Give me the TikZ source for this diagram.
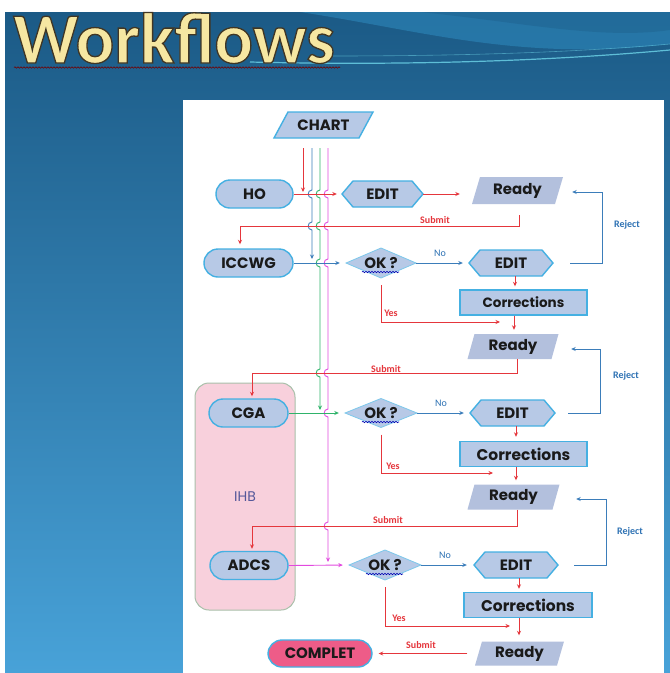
\documentclass[tikz,border=0pt]{standalone}
\usepackage{fontspec}
\setmainfont{Carlito}
\newfontfamily\lblfont{Poppins}
\usetikzlibrary{arrows.meta,decorations.pathmorphing}

\definecolor{slideTop}{HTML}{1B5A86}
\definecolor{slideBot}{HTML}{48A2D8}
\definecolor{nodeFill}{HTML}{B7C9E6}
\definecolor{readyFill}{HTML}{B3C0DD}
\definecolor{nodeEdge}{HTML}{45B0E2}
\definecolor{cRed}{HTML}{E5363C}
\definecolor{cBlue}{HTML}{3B7DBA}
\definecolor{cGreen}{HTML}{2FB36A}
\definecolor{cMag}{HTML}{E24ADF}
\definecolor{lblBlue}{HTML}{2E72B4}
\definecolor{ihbFill}{HTML}{F8D0DC}
\definecolor{ihbEdge}{HTML}{A9C0AA}
\definecolor{ihbText}{HTML}{55589A}
\definecolor{compFill}{HTML}{EE5C88}
\definecolor{titleYel}{HTML}{F6E7A2}
\definecolor{txtc}{HTML}{1A1A1A}
\definecolor{swoosh}{HTML}{2F8CC0}
\definecolor{swooshLine}{HTML}{6FD6EA}

\tikzset{
  lbl/.style={font=\lblfont\bfseries\fontsize{15}{15}\selectfont, text=txtc, inner sep=0pt},
  shapeline/.style={fill=nodeFill, draw=nodeEdge, line width=1.4pt},
  diamline/.style={fill=nodeFill, draw=nodeEdge!70, line width=0.8pt},
  readyshape/.style={fill=readyFill, draw=none},
  term/.style={lbl, shapeline, rounded corners=14pt, minimum height=28pt},
  corr/.style={lbl, shapeline, minimum height=25pt, minimum width=127pt},
  tip/.style={-{Stealth[length=4.5pt,width=4pt]}},
  rline/.style={draw=cRed, line width=0.9pt, tip},
  bline/.style={draw=cBlue, line width=0.9pt, tip},
  gline/.style={draw=cGreen, line width=0.9pt, tip},
  mline/.style={draw=cMag, line width=0.9pt, tip},
  rlab/.style={text=cRed, font=\fontsize{10}{10}\selectfont\bfseries, inner sep=0pt},
  blab/.style={text=lblBlue, font=\fontsize{10}{10}\selectfont, inner sep=0pt},
  squig/.style={draw=#1, line width=0.6pt, decorate, decoration={snake, amplitude=0.7pt, segment length=3pt}},
  titlefont/.style={font=\fontsize{72}{72}\selectfont\bfseries, anchor=base west, inner sep=0pt},
}

% #1 name, #2 x, #3 y, #4 w, #5 h, #6 text
\newcommand\hexnode[6]{%
  \filldraw[shapeline] (#2-#4/2,#3) -- (#2-#4/2+11,#3-#5/2) -- (#2+#4/2-11,#3-#5/2)
    -- (#2+#4/2,#3) -- (#2+#4/2-11,#3+#5/2) -- (#2-#4/2+11,#3+#5/2) -- cycle;
  \node[lbl, minimum width=#4, minimum height=#5] (#1) at (#2,#3) {#6};}
% #1 style, #2 name, #3 x, #4 y, #5 w, #6 h, #7 slant, #8 text
\newcommand\paranode[8]{%
  \path[#1] (#3-#5/2+#7,#4-#6/2) -- (#3+#5/2,#4-#6/2) -- (#3+#5/2-#7,#4+#6/2)
    -- (#3-#5/2,#4+#6/2) -- cycle;
  \node[lbl, minimum width=#5-#7, minimum height=#6] (#2) at (#3,#4) {#8};}
% #1 name, #2 x, #3 y, #4 w, #5 h
\newcommand\dianode[5]{%
  \filldraw[diamline] (#2-#4/2,#3) -- (#2,#3-#5/2) -- (#2+#4/2,#3) -- (#2,#3+#5/2) -- cycle;
  \node[lbl, minimum width=#4, minimum height=#5] (#1) at (#2,#3) {OK ?};
  \draw[squig=blue!70!black] (#2-19,#3+9) -- (#2+18,#3+9);}

\begin{document}
\begin{tikzpicture}[x=1pt,y=-1pt]
\useasboundingbox (0,0) rectangle (670,673);
\fill[white] (0,0) rectangle (670,673);
% slide background
\shade[top color=slideTop, bottom color=slideBot] (5,12) rectangle (670,673);
\fill[swoosh, opacity=0.55] (300,12) .. controls (420,30) and (520,62) .. (670,44) -- (670,12) -- cycle;
\fill[slideTop, opacity=0.35] (420,12) .. controls (520,22) and (600,40) .. (670,30) -- (670,12) -- cycle;
\draw[swooshLine, line width=1.2pt, opacity=0.8] (250,62) .. controls (420,66) and (560,60) .. (670,50);
\draw[swooshLine, line width=0.6pt, opacity=0.5] (330,56) .. controls (470,56) and (580,52) .. (670,44);
% title (filled and outlined text)
\node[titlefont, text=titleYel] (title) at (13,63)
  {\special{pdf:literal direct 2 Tr 1.3 w 0.25 0.21 0.14 RG}Workflows\special{pdf:literal direct 0 Tr}};
\draw[squig=red!45!black] (14,67.5) -- (340,67.5);
% white panel
\fill[white] (183,100) rectangle (664,673);

% IHB box
\node[draw=ihbEdge, fill=ihbFill, line width=1pt, rounded corners=14pt, minimum width=100, minimum height=227,
      font=\lblfont\fontsize{14}{14}\selectfont, text=ihbText, inner sep=0pt] (ihb) at (245,496.5) {IHB};

% nodes
\paranode{shapeline}{chart}{323.5}{125}{99}{26}{14}{CHART}
\node[term, minimum width=77] (ho) at (254.5,194) {HO};
\hexnode{e1}{382.5}{194}{81}{26}{EDIT}
\paranode{readyshape}{r1}{517.5}{190.5}{91}{27}{8}{Ready}
\node[term, minimum width=89] (iccwg) at (248.5,263) {ICCWG};
\dianode{ok1}{381}{263}{70}{30}
\hexnode{e2}{511}{263}{84}{26}{EDIT}
\node[corr, font=\lblfont\bfseries\fontsize{13.5}{14}\selectfont] (c1) at (523.5,302.5) {Corrections};
\paranode{readyshape}{r2}{513}{346.5}{91}{25}{7}{Ready}
\node[term, minimum width=79] (cga) at (248.5,413) {CGA};
\dianode{ok2}{381}{413}{72}{29}
\hexnode{e3}{512.5}{413}{85}{26}{EDIT}
\node[corr, font=\lblfont\bfseries\fontsize{15.5}{16}\selectfont] (c2) at (523.5,454) {Corrections};
\paranode{readyshape}{r3}{513.5}{497}{92}{25}{7}{Ready}
\node[term, minimum width=78] (adcs) at (249,565.5) {ADCS};
\dianode{ok3}{385}{565}{72}{30}
\hexnode{e4}{516}{565}{84}{26}{EDIT}
\node[corr, minimum width=128, font=\lblfont\bfseries\fontsize{15.5}{16}\selectfont] (c3) at (528,605) {Corrections};
\paranode{readyshape}{r4}{519.5}{653.5}{89}{24}{7}{Ready}
\node[term, fill=compFill, minimum width=104, minimum height=27] (comp) at (320,653.5) {COMPLET};

% coordinates
\coordinate (vr) at (303,148);
\coordinate (vb) at (312,148);
\coordinate (vg) at (320,148);
\coordinate (vm) at (328,148);
\coordinate (s1) at (240,226);
\coordinate (s2) at (252,373);
\coordinate (s3) at (252,526);
\coordinate (rj1) at (602,263);
\coordinate (rj2) at (600,413);
\coordinate (rj3) at (606,565);
\coordinate (y1) at (500,322);
\coordinate (y2) at (493,473);
\coordinate (y3) at (510,626);

% chart feeds
\draw[rline, shorten >=2pt] (vr) -- (vr |- ho.east);
\draw[bline] (vb) foreach \yy in {194,226} { -- (312,\yy-4) .. controls (307,\yy-4) and (307,\yy+4) .. (312,\yy+4) } -- (312,259);
\draw[gline] (vg) foreach \yy in {194,226,263,373} { -- (320,\yy-4) .. controls (315,\yy-4) and (315,\yy+4) .. (320,\yy+4) } -- (320,410);
\draw[mline] (vm) foreach \yy in {194,226,263,373,413,526} { -- (328,\yy-4) .. controls (323,\yy-4) and (323,\yy+4) .. (328,\yy+4) } -- (328,562);

% stage 1
\draw[rline, shorten >=5pt] (ho.east) -- (e1.west);
\draw[rline, shorten >=16pt] (e1.east) -- (e1.east -| r1.west);
\draw[rline, shorten <=11pt, shorten >=4pt] ([xshift=1.5pt]r1.south) |- (s1) -- (s1 |- iccwg.north);
\node[rlab] (sub1) at (435,220) {Submit};
\draw[bline, shorten >=6pt] (iccwg.east) -- (ok1.west);
\draw[bline, shorten >=6pt] (ok1.east) -- (e2.west);
\node[blab] (no1) at (440,253) {No};
\draw[bline, shorten <=17pt, shorten >=13pt] (e2.east) -- (rj1) |- ([yshift=-1.5pt]r1.east);
\node[blab, font=\fontsize{10}{10}\selectfont\bfseries] (rej1) at (627,225) {Reject};
\draw[rline, shorten >=3pt] ([xshift=4pt]e2.south) -- ([xshift=4pt]e2.south |- c1.north);
\draw[rline, shorten <=7pt] (ok1.south) |- (y1);
\node[rlab] (yes1) at (391,313) {Yes};
\draw[rline, shorten >=4pt] ([xshift=-9.5pt]c1.south) -- ([xshift=-9.5pt]c1.south |- r2.north);

% stage 2
\draw[rline, shorten >=2pt] ([xshift=4pt]r2.south) |- (s2) -- (s2 |- cga.north);
\node[rlab] (sub2) at (386,369) {Submit};
\draw[gline, shorten >=6pt] (cga.east) -- (ok2.west);
\draw[bline, shorten >=6pt] (ok2.east) -- (e3.west);
\node[blab] (no2) at (441,403) {No};
\draw[bline, shorten <=13pt, shorten >=16pt] (e3.east) -- (rj2) |- ([yshift=-2.5pt]r2.east);
\node[blab, font=\fontsize{10}{10}\selectfont\bfseries] (rej2) at (626,376) {Reject};
\draw[rline, shorten >=4pt] ([xshift=3.5pt]e3.south) -- ([xshift=3.5pt]e3.south |- c2.north);
\draw[rline, shorten <=7pt] (ok2.south) |- (y2);
\node[rlab] (yes2) at (393,466) {Yes};
\draw[rline, shorten >=4pt] ([xshift=-7.5pt]c2.south) -- ([xshift=-7.5pt]c2.south |- r3.north);

% stage 3
\draw[rline, shorten >=2pt] ([xshift=3.5pt]r3.south) |- (s3) -- (s3 |- adcs.north);
\node[rlab] (sub3) at (388,520) {Submit};
\draw[mline, shorten >=6pt] (adcs.east) -- (ok3.west);
\draw[bline, shorten >=7pt] (ok3.east) -- (e4.west);
\node[blab] (no3) at (445,555) {No};
\draw[bline, shorten <=16pt, shorten >=20pt] (e4.east) -- (rj3) |- ([yshift=-2pt]r3.east);
\node[blab, font=\fontsize{10}{10}\selectfont\bfseries] (rej3) at (630,532) {Reject};
\draw[rline, shorten >=3pt] ([xshift=3pt]e4.south) -- ([xshift=3pt]e4.south |- c3.north);
\draw[rline, shorten <=7pt] (ok3.south) |- (y3);
\node[rlab] (yes3) at (399,618) {Yes};
\draw[rline, shorten >=6pt] ([xshift=-9pt]c3.south) -- ([xshift=-9pt]c3.south |- r4.north);
\draw[rline, shorten <=11pt, shorten >=6pt] (r4.west) -- (comp.east);
\node[rlab] (sub4) at (421,645) {Submit};
\end{tikzpicture}
\end{document}
